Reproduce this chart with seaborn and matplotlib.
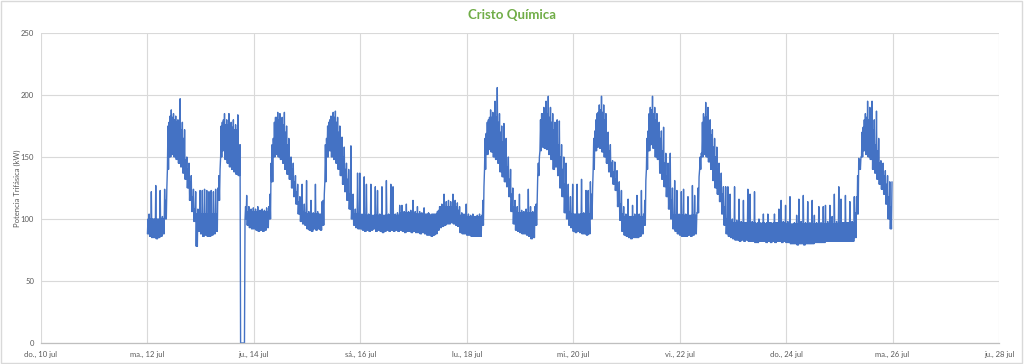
import pandas as pd
import matplotlib
matplotlib.use('Agg')
import matplotlib.pyplot as plt
import matplotlib.dates as mdates
from matplotlib.patches import Rectangle
import seaborn as sns

# Hourly readings from 12 jul 00:00 to 25 jul 23:00, one row per day.
# low = bottom of the band, top = top of the band, peak = highest spike in the hour
low_kw = [
    88, 86, 85, 85, 84, 85, 86, 88, 100, 140, 150, 152, 150, 148, 145, 142, 137, 132, 125, 115, 106, 98, 78, 90,
    88, 86, 87, 86, 86, 87, 88, 90, 115, 150, 155, 148, 145, 142, 140, 138, 136, 135, 0, 0, 100, 95, 93, 92,
    92, 91, 90, 91, 90, 91, 93, 100, 130, 150, 152, 150, 148, 145, 140, 136, 132, 125, 118, 112, 104, 98, 96, 95,
    92, 91, 90, 92, 91, 92, 91, 95, 130, 150, 155, 150, 148, 145, 140, 135, 128, 122, 115, 108, 100, 95, 93, 92,
    92, 91, 90, 91, 90, 91, 92, 90, 91, 90, 89, 90, 91, 90, 91, 90, 91, 90, 91, 90, 89, 90, 90, 89,
    90, 89, 89, 88, 89, 88, 87, 87, 86, 87, 88, 91, 93, 94, 95, 96, 96, 97, 96, 95, 94, 89, 88, 88,
    87, 87, 86, 86, 86, 86, 86, 95, 140, 152, 156, 154, 150, 148, 145, 138, 134, 130, 126, 118, 106, 96, 91, 90,
    89, 88, 88, 87, 86, 84, 85, 95, 135, 155, 158, 157, 156, 152, 148, 140, 142, 135, 125, 118, 105, 100, 95, 93,
    90, 89, 90, 89, 88, 88, 87, 88, 100, 140, 155, 158, 157, 154, 150, 145, 138, 134, 128, 123, 110, 99, 90, 87,
    86, 85, 84, 85, 85, 85, 86, 88, 95, 140, 155, 160, 157, 150, 148, 137, 132, 126, 118, 108, 100, 92, 90, 88,
    87, 86, 86, 86, 87, 86, 87, 88, 105, 140, 150, 152, 150, 146, 140, 131, 125, 120, 114, 104, 95, 88, 86, 85,
    84, 83, 83, 82, 83, 82, 83, 82, 82, 82, 81, 81, 82, 82, 82, 81, 82, 81, 82, 81, 82, 82, 81, 82,
    81, 81, 80, 80, 80, 79, 80, 80, 79, 80, 80, 80, 80, 81, 81, 81, 81, 81, 82, 82, 82, 82, 82, 82,
    82, 82, 82, 82, 82, 82, 82, 85, 104, 140, 150, 155, 152, 150, 148, 140, 137, 132, 128, 124, 120, 112, 100, 92,
]
top_kw = [
    100, 100, 100, 100, 100, 100, 100, 100, 115, 175, 183, 182, 180, 178, 176, 172, 165, 148, 140, 130, 118, 108, 104, 104,
    104, 104, 104, 104, 104, 104, 104, 104, 135, 175, 180, 176, 176, 174, 174, 172, 172, 158, 0, 0, 110, 106, 106, 106,
    106, 106, 106, 106, 106, 106, 106, 120, 160, 178, 182, 180, 178, 176, 170, 160, 148, 140, 130, 122, 114, 106, 106, 105,
    104, 104, 104, 104, 104, 104, 104, 115, 160, 175, 180, 182, 182, 178, 170, 160, 150, 140, 132, 120, 110, 104, 104, 104,
    103, 103, 103, 103, 103, 103, 103, 103, 103, 103, 103, 103, 103, 103, 103, 103, 103, 103, 105, 105, 105, 105, 105, 105,
    104, 104, 104, 104, 104, 104, 104, 104, 104, 104, 104, 107, 110, 110, 110, 110, 110, 110, 110, 110, 107, 103, 103, 103,
    102, 102, 102, 102, 102, 102, 102, 115, 165, 178, 182, 182, 180, 182, 178, 170, 162, 152, 142, 132, 120, 110, 106, 105,
    105, 105, 105, 105, 105, 105, 105, 112, 145, 180, 185, 186, 185, 182, 178, 172, 168, 160, 150, 140, 128, 115, 106, 104,
    104, 104, 104, 104, 104, 104, 104, 104, 120, 165, 180, 186, 188, 186, 180, 165, 155, 145, 138, 132, 122, 112, 104, 102,
    102, 102, 102, 102, 102, 102, 102, 102, 115, 165, 185, 188, 185, 180, 175, 165, 155, 145, 135, 125, 115, 103, 103, 103,
    103, 103, 103, 103, 103, 103, 103, 103, 125, 150, 178, 182, 182, 176, 168, 158, 150, 140, 130, 120, 110, 100, 99, 98,
    97, 97, 97, 97, 97, 97, 97, 97, 97, 97, 97, 97, 97, 97, 97, 97, 97, 97, 97, 97, 97, 97, 97, 97,
    96, 96, 96, 96, 96, 96, 96, 96, 96, 96, 96, 96, 96, 96, 96, 96, 96, 96, 96, 96, 96, 96, 96, 96,
    97, 97, 97, 97, 97, 97, 97, 105, 135, 148, 170, 180, 182, 180, 178, 172, 160, 155, 145, 140, 135, 128, 118, 110,
]
peak_kw = [
    104, 122, 100, 127, 100, 123, 102, 124, 125, 178, 188, 185, 183, 180, 197, 178, 172, 150, 145, 135, 124, 122, 108, 123,
    123, 124, 123, 122, 123, 122, 124, 125, 140, 178, 185, 180, 185, 178, 180, 176, 184, 160, 0, 0, 119, 110, 108, 109,
    108, 110, 107, 108, 107, 109, 110, 145, 165, 182, 186, 185, 182, 186, 175, 165, 150, 145, 135, 128, 118, 128, 112, 131,
    106, 115, 105, 128, 106, 104, 114, 120, 165, 178, 183, 186, 187, 182, 175, 166, 158, 145, 140, 159, 120, 108, 137, 137,
    104, 134, 128, 104, 128, 103, 126, 123, 104, 126, 103, 131, 104, 128, 126, 104, 105, 111, 111, 106, 112, 106, 107, 115,
    106, 110, 106, 105, 109, 104, 105, 103, 104, 104, 106, 110, 112, 120, 114, 115, 114, 120, 115, 113, 110, 105, 104, 112,
    104, 103, 104, 102, 103, 104, 103, 126, 169, 180, 188, 186, 195, 206, 185, 175, 177, 165, 150, 140, 125, 115, 110, 120,
    107, 106, 108, 124, 110, 106, 110, 116, 150, 185, 190, 195, 199, 190, 185, 178, 180, 179, 160, 150, 145, 128, 118, 128,
    104, 128, 104, 132, 105, 123, 123, 130, 125, 171, 185, 192, 199, 192, 185, 170, 160, 147, 146, 139, 130, 123, 110, 104,
    116, 102, 111, 104, 119, 104, 123, 104, 131, 171, 190, 199, 190, 185, 178, 171, 174, 153, 145, 153, 125, 131, 123, 104,
    122, 124, 104, 118, 103, 127, 119, 105, 134, 153, 185, 194, 190, 180, 172, 165, 158, 145, 137, 126, 126, 126, 120, 100,
    126, 99, 116, 98, 115, 97, 124, 120, 98, 122, 96, 100, 96, 104, 96, 104, 97, 96, 104, 97, 108, 115, 98, 111,
    98, 118, 96, 97, 103, 116, 98, 119, 97, 114, 97, 115, 103, 97, 110, 97, 110, 111, 98, 111, 102, 120, 98, 126,
    116, 97, 119, 97, 114, 98, 118, 118, 149, 150, 174, 185, 195, 190, 195, 180, 187, 165, 147, 145, 139, 135, 130, 130,
]
start_time = '2022-07-12 00:00'

tick_dates = ['2022-07-10', '2022-07-12', '2022-07-14', '2022-07-16', '2022-07-18',
              '2022-07-20', '2022-07-22', '2022-07-24', '2022-07-26', '2022-07-28']
tick_labels = ['do., 10 jul', 'ma., 12 jul', 'ju., 14 jul', 'sá., 16 jul', 'lu., 18 jul',
               'mi., 20 jul', 'vi., 22 jul', 'do., 24 jul', 'ma., 26 jul', 'ju., 28 jul']
y_ticks = [0, 50, 100, 150, 200, 250]

# each hour: low, band top, low, peak at 15-minute steps -> dense band with thin spikes
hours = pd.date_range(start_time, periods=len(low_kw), freq='h')
times, values = [], []
for t, lo, top, pk in zip(hours, low_kw, top_kw, peak_kw):
    times += [t + pd.Timedelta(minutes=m) for m in (0, 15, 30, 45)]
    values += [lo, top, lo, pk]
data = pd.DataFrame({'Tiempo': times, 'Potencia': values})

sns.set_style('white')
plt.rcParams['font.family'] = ['Lato', 'DejaVu Sans']

fig = plt.figure(figsize=(10.24, 3.64), dpi=100)
ax = fig.add_axes([41 / 1024, 21 / 364, 958 / 1024, 310 / 364])

sns.lineplot(x='Tiempo', y='Potencia', data=data, ax=ax, color='#4472C4',
             linewidth=1.0, estimator=None, sort=False)

ax.set_xlim(pd.Timestamp(tick_dates[0]), pd.Timestamp(tick_dates[-1]))
ax.set_ylim(0, 250)
ax.set_xticks([mdates.date2num(pd.Timestamp(d)) for d in tick_dates])
ax.set_xticklabels(tick_labels)
ax.set_yticks(y_ticks)
ax.grid(True, color='#d9d9d9', linewidth=0.8)
ax.set_axisbelow(True)
for side in ['top', 'right', 'left']:
    ax.spines[side].set_visible(False)
ax.spines['bottom'].set_color('#bfbfbf')
ax.spines['bottom'].set_linewidth(0.9)
ax.tick_params(axis='both', length=0, labelsize=5.5, labelcolor='#595959')
ax.tick_params(axis='x', pad=6)
ax.tick_params(axis='y', pad=5)

ax.set_xlabel('')
ax.set_ylabel('Potencia Trifásica (kW)', fontsize=5.5, color='#595959', labelpad=0)
fig.text(0.5, 1 - 15 / 364, 'Cristo Química', ha='center', va='center',
         fontsize=9.5, fontweight='bold', color='#70AD47')

fig.patches.append(Rectangle((0.001, 0.002), 0.997, 0.995, transform=fig.transFigure,
                             fill=False, edgecolor='#d9d9d9', linewidth=1))

fig.savefig('out.png', dpi=100)
